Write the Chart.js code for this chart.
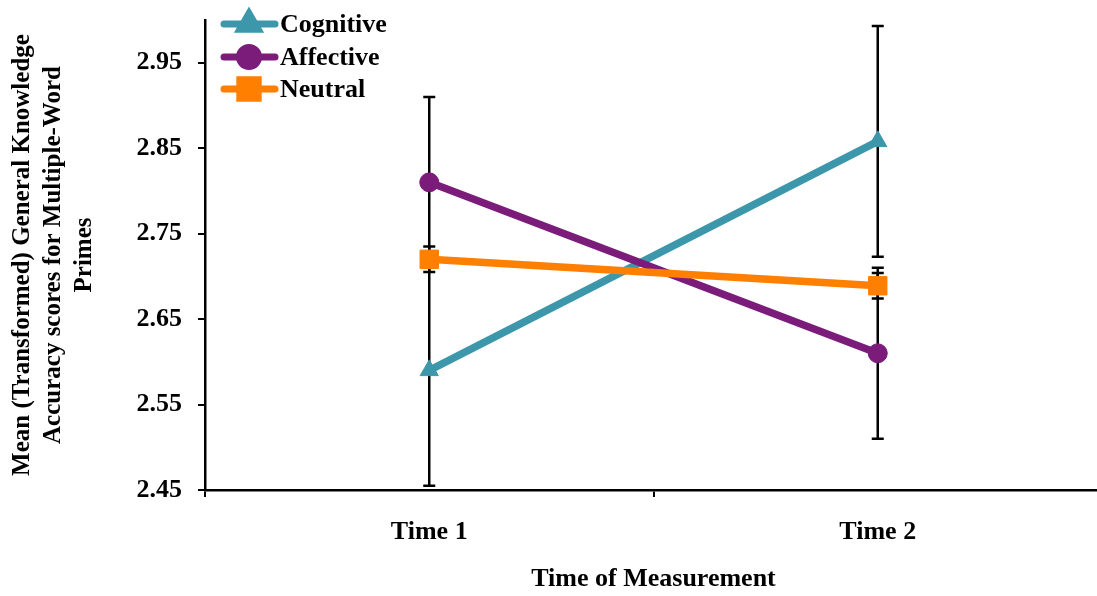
<!DOCTYPE html>
<html>
<head>
<meta charset="utf-8">
<script src="https://cdn.jsdelivr.net/npm/chart.js@4/dist/chart.umd.min.js"></script>
<style>
  html, body { margin: 0; padding: 0; background: #fff; overflow: hidden; }
  #wrap { width: 1116px; height: 596px; position: relative; }
</style>
</head>
<body>
<div id="wrap"><canvas id="c"></canvas></div>
<script>
const categories = ["Time 1", "Time 2"];
const seriesNames = ["Cognitive", "Affective", "Neutral"];
const cognitive = [2.59, 2.858];
const affective = [2.81, 2.61];
const neutral = [2.72, 2.689];
const errCognitive = [0.135, 0.135];
const errAffective = [0.10, 0.10];
const errNeutral = [0.015, 0.015];
const yTicks = [2.45, 2.55, 2.65, 2.75, 2.85, 2.95];

const FONT = "'Liberation Serif', 'Times New Roman', serif";
const colors = { cog: '#3D97AB', aff: '#7B1C7B', neu: '#FF7F00' };

const errorBars = {
  id: 'errorBars',
  beforeDatasetsDraw(chart) {
    const ctx = chart.ctx;
    const xs = chart.scales.x, ys = chart.scales.y;
    const sets = [[cognitive, errCognitive], [affective, errAffective], [neutral, errNeutral]];
    ctx.save();
    ctx.strokeStyle = '#000';
    ctx.lineWidth = 2.5;
    sets.forEach(([vals, errs]) => {
      vals.forEach((v, i) => {
        const x = xs.getPixelForValue(i);
        const yt = ys.getPixelForValue(v + errs[i]);
        const yb = ys.getPixelForValue(v - errs[i]);
        ctx.beginPath();
        ctx.moveTo(x, yt); ctx.lineTo(x, yb);
        ctx.moveTo(x - 6, yt); ctx.lineTo(x + 6, yt);
        ctx.moveTo(x - 6, yb); ctx.lineTo(x + 6, yb);
        ctx.stroke();
      });
    });
    ctx.restore();
  }
};

const legendItems = [
  { name: seriesNames[0], color: colors.cog, style: 'triangle', r: 10.5 },
  { name: seriesNames[1], color: colors.aff, style: 'circle', r: 9.5 },
  { name: seriesNames[2], color: colors.neu, style: 'rect', r: 13 }
];
const customLegend = {
  id: 'customLegend',
  afterDraw(chart) {
    const ctx = chart.ctx;
    const rows = [24, 57, 89];
    ctx.save();
    legendItems.forEach((it, i) => {
      const y = rows[i];
      ctx.strokeStyle = it.color;
      ctx.lineWidth = 7;
      ctx.lineCap = 'round';
      ctx.beginPath(); ctx.moveTo(224, y); ctx.lineTo(275, y); ctx.stroke();
      ctx.fillStyle = it.color;
      ctx.strokeStyle = it.color;
      Chart.helpers.drawPoint(ctx, { pointStyle: it.style, radius: it.r, rotation: 0, borderWidth: 1 }, 249, y);
      ctx.fillStyle = '#000';
      ctx.font = "bold 26px " + FONT;
      ctx.textBaseline = 'middle';
      ctx.textAlign = 'left';
      ctx.fillText(it.name, 280, y + 1);
    });
    ctx.restore();
  }
};

new Chart(document.getElementById('c'), {
  type: 'line',
  data: {
    labels: categories,
    datasets: [
      { label: seriesNames[0], data: cognitive, borderColor: colors.cog, backgroundColor: colors.cog,
        borderWidth: 7.5, pointStyle: 'triangle', pointRadius: 10.5, pointHoverRadius: 10.5, pointBorderWidth: 1, order: 2 },
      { label: seriesNames[1], data: affective, borderColor: colors.aff, backgroundColor: colors.aff,
        borderWidth: 7.5, pointStyle: 'circle', pointRadius: 9.5, pointHoverRadius: 9.5, pointBorderWidth: 1, order: 1 },
      { label: seriesNames[2], data: neutral, borderColor: colors.neu, backgroundColor: colors.neu,
        borderWidth: 7.5, pointStyle: 'rect', pointRadius: 13, pointHoverRadius: 13, pointBorderWidth: 1, order: 0 }
    ]
  },
  options: {
    responsive: true,
    maintainAspectRatio: false,
    animation: false,
    events: [],
    layout: { padding: { top: 20, right: 0, bottom: 0, left: 0 } },
    plugins: { legend: { display: false }, tooltip: { enabled: false } },
    scales: {
      x: {
        type: 'category',
        offset: true,
        afterFit(s) { s.height = 106; s.paddingLeft = 0; s.paddingRight = 0; },
        border: { display: true, color: '#000', width: 2.5 },
        grid: { display: true, drawOnChartArea: false, drawTicks: true, offset: true, tickLength: 7, color: '#000', lineWidth: 2 },
        ticks: { color: '#000', padding: 20, font: { family: FONT, size: 26, weight: 'bold' } },
        title: { display: true, text: 'Time of Measurement', color: '#000', padding: { top: 0, bottom: 1 },
          font: { family: FONT, size: 26, weight: 'bold', lineHeight: 1.2 } }
      },
      y: {
        min: 2.45, max: 3.0,
        afterFit(s) { s.width = 205; s.paddingTop = 0; s.paddingBottom = 0; },
        afterBuildTicks(s) { s.ticks = yTicks.map(v => ({ value: v })); },
        border: { display: true, color: '#000', width: 2.5 },
        grid: { display: true, drawOnChartArea: false, drawTicks: true, tickLength: 7, color: '#000', lineWidth: 2 },
        ticks: { color: '#000', padding: 16, font: { family: FONT, size: 26, weight: 'bold' },
          callback: (v) => Number(v).toFixed(2) },
        title: { display: true,
          text: ['Mean (Transformed) General Knowledge', 'Accuracy scores for Multiple-Word', 'Primes'],
          color: '#000', padding: { top: 7, bottom: 0 },
          font: { family: FONT, size: 25, weight: 'bold', lineHeight: 31 / 25 } }
      }
    }
  },
  plugins: [errorBars, customLegend]
});
</script>
</body>
</html>
